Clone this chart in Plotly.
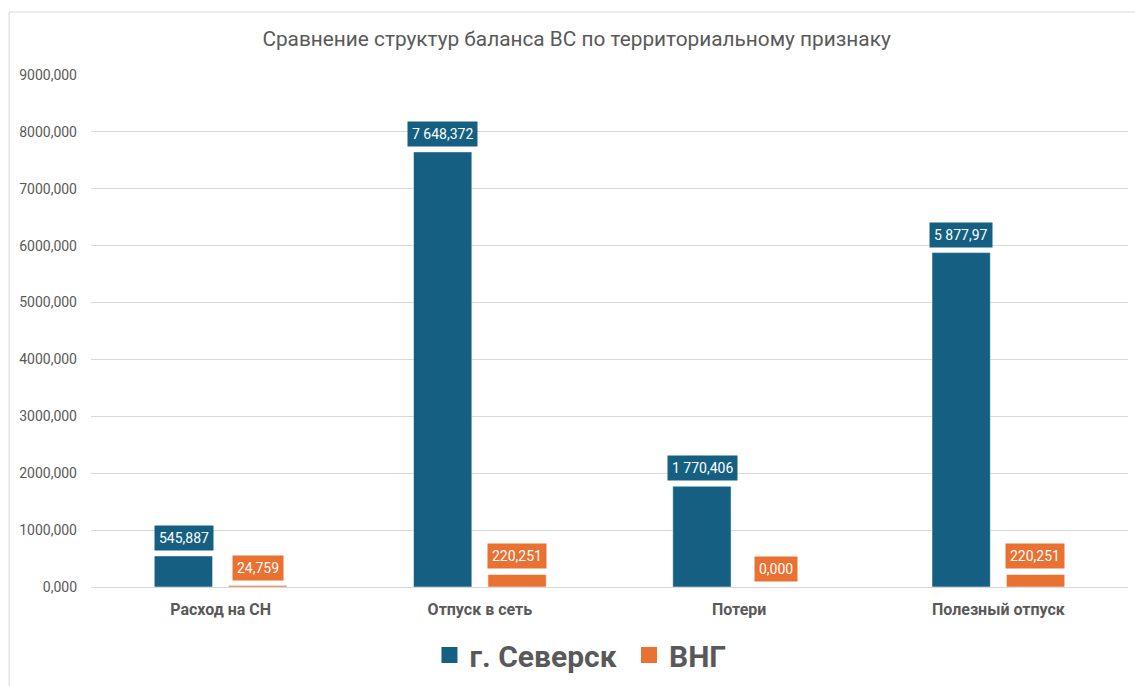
import plotly.graph_objects as go

categories = ["Расход на СН", "Отпуск в сеть", "Потери", "Полезный отпуск"]
seversk = [545.887, 7648.372, 1770.406, 5877.97]
vng = [24.759, 220.251, 0.000, 220.251]
seversk_labels = ["545,887", "7 648,372", "1 770,406", "5 877,97"]
vng_labels = ["24,759", "220,251", "0,000", "220,251"]
y_ticks = [0, 1000, 2000, 3000, 4000, 5000, 6000, 7000, 8000, 9000]

BLUE = "#156082"
ORANGE = "#E97132"
GREY = "#595959"
FONT = "Roboto"

fig = go.Figure()
fig.add_trace(go.Bar(
    name="г. Северск", x=categories, y=seversk, showlegend=False,
    marker=dict(color=BLUE, line=dict(color="rgba(255,255,255,0.5)", width=1)),
    hoverinfo="y",
))
fig.add_trace(go.Bar(
    name="ВНГ", x=categories, y=vng, showlegend=False,
    marker=dict(color=ORANGE, line=dict(color="rgba(255,255,255,0.5)", width=1)),
    hoverinfo="y",
))

# legend-only entries with bigger square swatches (nbsp widens the gap between items)
for name, col in [("г. Северск\u00a0", BLUE), ("ВНГ", ORANGE)]:
    fig.add_trace(go.Scatter(x=[None], y=[None], mode="markers", name=name,
                             marker=dict(symbol="square", size=20, color=col)))

# boxed data labels like the Excel callouts
for cat, val, txt in zip(categories, seversk, seversk_labels):
    fig.add_annotation(x=cat, y=val, text=txt, showarrow=False, xshift=-37,
                       yanchor="bottom", yshift=5, bgcolor=BLUE, borderpad=4,
                       font=dict(family=FONT, size=14, color="white"))
for cat, val, txt in zip(categories, vng, vng_labels):
    fig.add_annotation(x=cat, y=val, text=txt, showarrow=False, xshift=37,
                       yanchor="bottom", yshift=5, bgcolor=ORANGE, borderpad=4,
                       font=dict(family=FONT, size=14, color="white"))

# thin chart frame
fig.add_shape(type="rect", xref="paper", yref="paper",
              x0=-0.079, x1=1.02, y0=-0.21, y1=1.123,
              line=dict(color="#D9D9D9", width=1), layer="below")

fig.update_layout(
    width=1135, height=686,
    paper_bgcolor="white", plot_bgcolor="white",
    separators=", ",
    barmode="group", bargap=0.426, bargroupgap=0.216,
    margin=dict(l=91, r=7, t=75, b=99, autoexpand=False),
    title=dict(text="Сравнение структур баланса ВС по территориальному признаку",
               x=0.508, xref="container", xanchor="center",
               y=0.943, yanchor="middle",
               font=dict(family=FONT, size=20.8, color=GREY)),
    font=dict(family=FONT, color=GREY),
    xaxis=dict(showgrid=False, showline=True, linecolor="#D9D9D9", linewidth=1,
               ticks="", ticklabelstandoff=8,
               tickfont=dict(family=FONT, size=16, color=GREY, weight="bold")),
    yaxis=dict(range=[0, 9000], tickvals=y_ticks, tickformat=".3f",
               showgrid=True, gridcolor="#D9D9D9", gridwidth=1, zeroline=False,
               showline=False, ticklabelstandoff=13,
               tickfont=dict(family=FONT, size=14, color=GREY)),
    legend=dict(orientation="h", x=0.472, xanchor="center", y=-0.082, yanchor="top",
                font=dict(family=FONT, size=30, color=GREY, weight="bold"),
                itemwidth=30, tracegroupgap=0),
    showlegend=True,
)

# drop the default page margin so the figure sits at the window's top-left
fig.write_html("out.html", config={"displayModeBar": False},
               post_script="document.body.style.margin='0';")
